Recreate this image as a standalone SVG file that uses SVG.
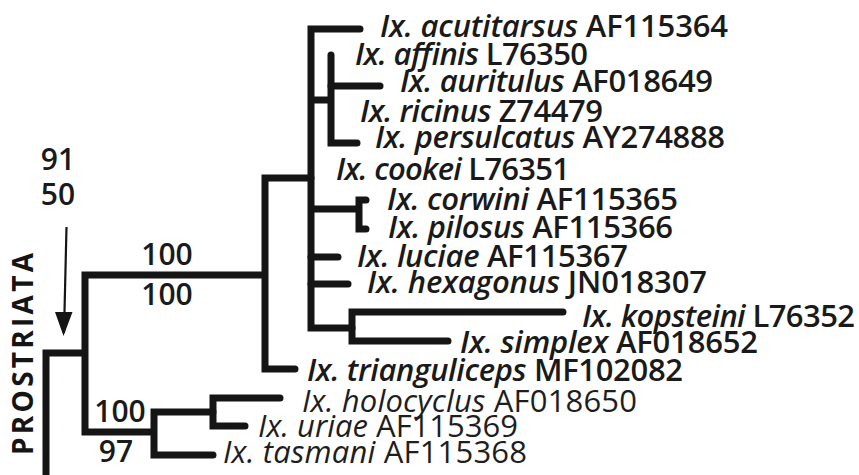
<svg xmlns="http://www.w3.org/2000/svg" width="859" height="475" viewBox="0 0 859 475">
<style>
.br{fill:none;stroke:#151515;stroke-width:7;stroke-linecap:round;stroke-linejoin:miter}
.br2{fill:none;stroke:#151515;stroke-width:7;stroke-linecap:butt;stroke-linejoin:miter}
.lab{font-family:"Open Sans","Noto Sans","Liberation Sans",sans-serif;font-size:31px;font-weight:600;fill:#1a1a1a}
.lt{font-weight:400;fill:#1e1e1e}
.i{font-style:italic}
.num{font-family:"Open Sans","Noto Sans","Liberation Sans",sans-serif;font-size:30px;font-weight:600;fill:#1a1a1a;text-anchor:middle}
.clade{font-family:"Open Sans","Noto Sans","Liberation Sans",sans-serif;font-size:28px;font-weight:bold;fill:#151515}
.arr{stroke:#151515;stroke-width:2.2;fill:none}
</style>
<rect width="859" height="475" fill="#fff"/>
<g id="connectors">
<path class="br2" d="M46,480 V353 H85"/>
<path class="br2" d="M265,275 H85 V432 H154"/>
<path class="br" d="M311,178 H265 V369 H295"/>
<path class="br" d="M360,29 H311 V328 H352"/>
<path class="br2" d="M311,100 H331"/>
<path class="br" d="M331,55 V143 H357"/>
<path class="br" d="M331,86 H380"/>
<path class="br2" d="M311,209 H359"/>
<path class="br" d="M366,200 H359 V229 H366"/>
<path class="br" d="M311,257 H338"/>
<path class="br" d="M311,284 H348"/>
<path class="br" d="M563,312 H352 V341 H448"/>
<path class="br" d="M213,412 H154 V455 H213"/>
<path class="br" d="M280,398 H213 V426 H245"/>
<path d="M66.5,227 L64,333" class="arr"/>
<polygon points="55,312 72.5,312 63.5,336" fill="#151515"/>
</g>
<g id="n-acutitarsus"><text class="lab" x="380" y="37" textLength="348" lengthAdjust="spacing"><tspan class="i">Ix. acutitarsus</tspan> AF115364</text></g>
<g id="n-affinis"><text class="lab" x="355" y="65" textLength="233" lengthAdjust="spacing"><tspan class="i">Ix. affinis</tspan> L76350</text></g>
<g id="n-auritulus"><text class="lab" x="400" y="92" textLength="313" lengthAdjust="spacing"><tspan class="i">Ix. auritulus</tspan> AF018649</text></g>
<g id="n-ricinus"><text class="lab" x="360" y="122" textLength="243" lengthAdjust="spacing"><tspan class="i">Ix. ricinus</tspan> Z74479</text></g>
<g id="n-persulcatus"><text class="lab" x="375" y="148" textLength="350" lengthAdjust="spacing"><tspan class="i">Ix. persulcatus</tspan> AY274888</text></g>
<g id="n-cookei"><text class="lab" x="336" y="180" textLength="234" lengthAdjust="spacing"><tspan class="i">Ix. cookei</tspan> L76351</text></g>
<g id="n-corwini"><text class="lab" x="387" y="210" textLength="291" lengthAdjust="spacing"><tspan class="i">Ix. corwini</tspan> AF115365</text></g>
<g id="n-pilosus"><text class="lab" x="388" y="238" textLength="285" lengthAdjust="spacing"><tspan class="i">Ix. pilosus</tspan> AF115366</text></g>
<g id="n-luciae"><text class="lab" x="357" y="267" textLength="271" lengthAdjust="spacing"><tspan class="i">Ix. luciae</tspan> AF115367</text></g>
<g id="n-hexagonus"><text class="lab" x="367" y="293" textLength="340" lengthAdjust="spacing"><tspan class="i">Ix. hexagonus</tspan> JN018307</text></g>
<g id="n-kopsteini"><text class="lab" x="582" y="327" textLength="273" lengthAdjust="spacing"><tspan class="i">Ix. kopsteini</tspan> L76352</text></g>
<g id="n-simplex"><text class="lab" x="460" y="353" textLength="298" lengthAdjust="spacing"><tspan class="i">Ix. simplex</tspan> AF018652</text></g>
<g id="n-trianguliceps"><text class="lab" x="307" y="381" textLength="376" lengthAdjust="spacing"><tspan class="i">Ix. trianguliceps</tspan> MF102082</text></g>
<g id="n-holocyclus"><text class="lab lt" x="302" y="412" textLength="335" lengthAdjust="spacing"><tspan class="i">Ix. holocyclus</tspan> AF018650</text></g>
<g id="n-uriae"><text class="lab lt" x="258" y="437" textLength="260" lengthAdjust="spacing"><tspan class="i">Ix. uriae</tspan> AF115369</text></g>
<g id="n-tasmani"><text class="lab lt" x="223" y="463" textLength="304" lengthAdjust="spacing"><tspan class="i">Ix. tasmani</tspan> AF115368</text></g>
<g id="support-labels">
<text class="num" x="58" y="170">91</text>
<text class="num" x="58" y="205">50</text>
<text class="num" x="167" y="265">100</text>
<text class="num" x="167" y="305">100</text>
<text class="num" x="120" y="422">100</text>
<text class="num" x="116" y="462">97</text>
</g>
<g id="prostriata"><text class="clade" transform="translate(33,455) rotate(-90)" textLength="202" lengthAdjust="spacing">PROSTRIATA</text></g>
</svg>
